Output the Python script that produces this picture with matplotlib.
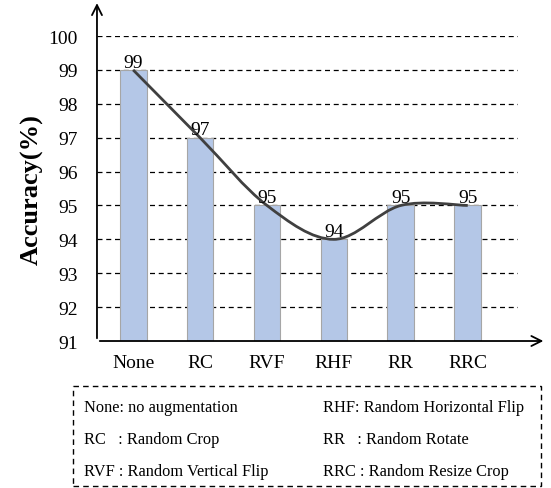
import matplotlib.pyplot as plt
from matplotlib.path import Path
from matplotlib.patches import PathPatch, Rectangle
from matplotlib import font_manager

names = sorted({f.name for f in font_manager.fontManager.ttflist})
serif = [n for n in ["Liberation Serif", "Times New Roman", "DejaVu Serif"] if n in names]
plt.rcParams['font.family'] = 'serif'
plt.rcParams['font.serif'] = serif

methods = ["None", "RC", "RVF", "RHF", "RR", "RRC"]
accuracy = [99, 97, 95, 94, 95, 95]
yticks = [91, 92, 93, 94, 95, 96, 97, 98, 99, 100]
legend_left = ["None: no augmentation", "RC   : Random Crop", "RVF : Random Vertical Flip"]
legend_right = ["RHF: Random Horizontal Flip", "RR   : Random Rotate", "RRC : Random Resize Crop"]

fig = plt.figure(figsize=(5.51, 4.89), dpi=100)
ax = fig.add_axes([0.176, 0.3006, 0.764, 0.6237])

xs = list(range(len(methods)))
ax.bar(xs, accuracy, width=0.4, bottom=0, color="#B4C7E7", edgecolor="#A6A6A6", linewidth=0.8, zorder=2)
ax.set_ylim(91, 100)
ax.set_xlim(-0.54, 5.75)

for y in yticks[1:]:
    ax.axhline(y, color="black", linestyle=(0, (4, 3)), linewidth=0.9, zorder=1)

# smoothed line (Catmull-Rom style bezier through the points)
pts = list(zip(xs, accuracy))
verts = [pts[0]]
codes = [Path.MOVETO]
for i in range(len(pts) - 1):
    p0 = pts[i - 1] if i > 0 else pts[i]
    p1 = pts[i]
    p2 = pts[i + 1]
    p3 = pts[i + 2] if i + 2 < len(pts) else pts[i + 1]
    c1 = (p1[0] + (p2[0] - p0[0]) / 6, p1[1] + (p2[1] - p0[1]) / 6)
    c2 = (p2[0] - (p3[0] - p1[0]) / 6, p2[1] - (p3[1] - p1[1]) / 6)
    verts += [c1, c2, p2]
    codes += [Path.CURVE4] * 3
ax.add_patch(PathPatch(Path(verts, codes), facecolor="none", edgecolor="#404040", linewidth=2, zorder=3))

for x, v in zip(xs, accuracy):
    ax.text(x, v - 0.02, str(v), ha="center", va="bottom", fontsize=14, zorder=4)

ax.set_yticks(yticks)
ax.set_yticklabels([str(t) for t in yticks], fontsize=14)
ax.set_xticks(xs)
ax.set_xticklabels(methods, fontsize=14)
ax.tick_params(length=0, pad=9)
ax.tick_params(axis="y", pad=14)
for s in ax.spines.values():
    s.set_visible(False)

ax.set_ylabel("Accuracy(%)", fontsize=19, fontweight="bold", labelpad=3)

# axis arrows
ax.annotate("", xy=(1.067, 0), xycoords="axes fraction", xytext=(0, 0),
            arrowprops=dict(arrowstyle="->", color="black", lw=1.3, mutation_scale=18), annotation_clip=False)
ax.annotate("", xy=(0, 1.117), xycoords="axes fraction", xytext=(0, 0),
            arrowprops=dict(arrowstyle="->", color="black", lw=1.3, mutation_scale=18), annotation_clip=False)

# legend box
fig.patches.append(Rectangle((73 / 551, 2 / 489), 468 / 551, 100 / 489, transform=fig.transFigure,
                             fill=False, edgecolor="black", linestyle=(0, (4, 3)), linewidth=1))
for i, (l, r) in enumerate(zip(legend_left, legend_right)):
    y = 1 - (408 + 32 * i) / 489
    fig.text(84 / 551, y, l, fontsize=11.8, va="center", ha="left")
    fig.text(323 / 551, y, r, fontsize=11.8, va="center", ha="left")

fig.savefig("out.png", dpi=100)
